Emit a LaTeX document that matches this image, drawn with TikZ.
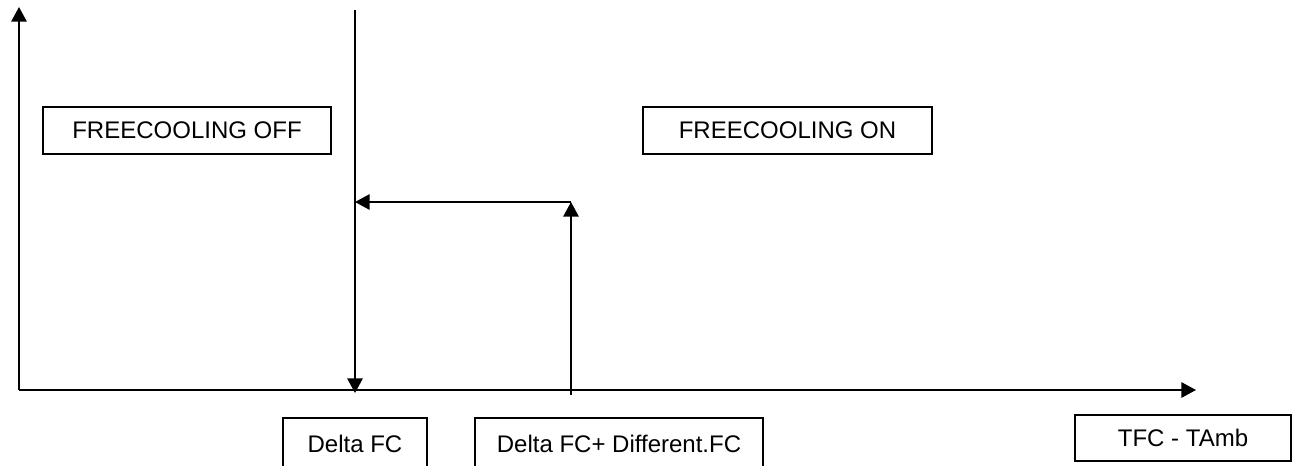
\documentclass[tikz,border=0pt]{standalone}
\usepackage{fontspec}
\setmainfont{Liberation Sans}
\usetikzlibrary{arrows.meta}
\tikzset{
  lbl/.style={draw, line width=1.5pt, inner sep=0pt, minimum height=35.25pt,
    font=\fontsize{18}{21}\selectfont},
  arr/.style={line width=1.5pt, -{Triangle[length=11pt,width=11.5pt]}},
}
\begin{document}
\begin{tikzpicture}[x=0.75pt, y=-0.75pt]
    \clip (0,0) rectangle (1298,465);
    % axes
    \coordinate (o) at (19,390);
    \coordinate (ytop) at (19,7);
    \coordinate (xend) at (1196,390);
    \draw[arr] (o) -- (ytop);
    \draw[arr] (o) -- (xend);
    % switching lines
    \coordinate (ltop) at (355,10);
    \coordinate (lbot) at (355,393);
    \coordinate (rbot) at (571,395);
    \coordinate (rtop) at (571,202);
    \coordinate (lmid) at (355,202);
    \draw[arr] (ltop) -- (lbot);
    \draw[arr] (rbot) -- (rtop);
    \draw[arr] (rtop) -- (lmid);
    % labels
    \node[lbl, minimum width=216pt] (off) at (187,130.5) {FREECOOLING OFF};
    \node[lbl, minimum width=216.75pt] (on) at (787.5,130.5) {FREECOOLING ON};
    \node[lbl, minimum width=108pt, minimum height=39pt] (dfc) at (355,444) {Delta FC};
    \node[lbl, minimum width=216pt, minimum height=39pt] (dfcdiff) at (619,444) {Delta FC+ Different.FC};
    \node[lbl, minimum width=162pt, minimum height=34.5pt] (tamb) at (1183,438) {TFC - TAmb};
\end{tikzpicture}
\end{document}
